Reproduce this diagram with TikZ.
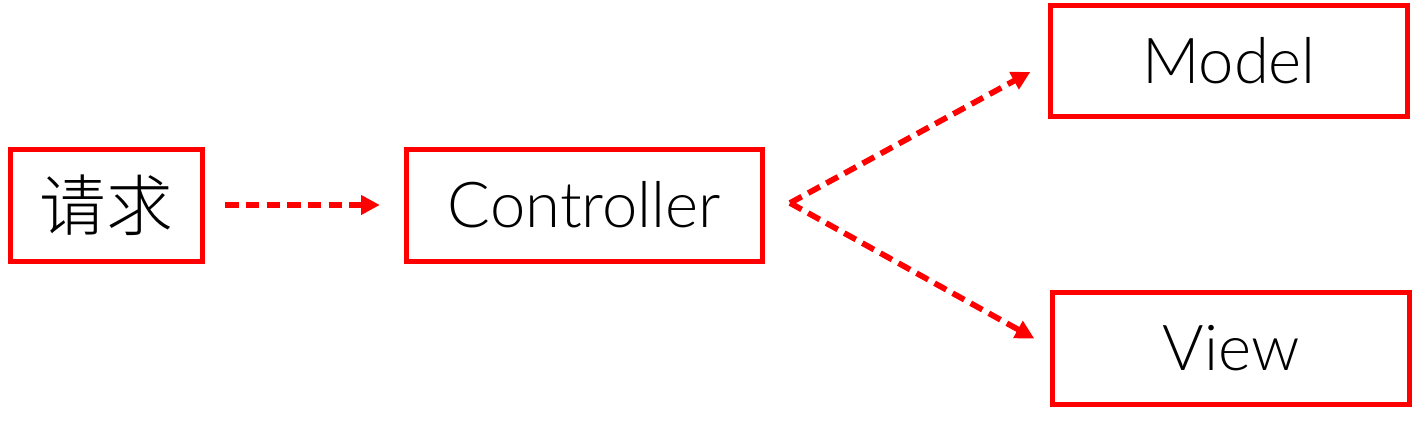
\documentclass[tikz,border=0pt]{standalone}
\usepackage{fontspec}
\setmainfont{Lato}[UprightFont={* Light}]
\newfontfamily\cjk{Noto Sans CJK SC}[UprightFont={* Light}]
\usetikzlibrary{arrows.meta}
\definecolor{boxred}{RGB}{255,0,0}
\begin{document}
\begin{tikzpicture}[x=0.75pt,y=-0.75pt,
  box/.style={draw=boxred, line width=3.75pt, inner sep=0pt, outer sep=0pt,
    minimum height=84pt, font=\fontsize{47.5}{50}\selectfont},
  flow/.style={draw=boxred, line width=4.3pt, dash pattern=on 10pt off 5.5pt,
    -{Triangle[length=14pt,width=14pt]}}]
\useasboundingbox (0,0) rectangle (1416,429);
\node[box, minimum width=144pt] (req) at (106.5,205) {\cjk\fontsize{50}{54}\selectfont 请求};
\node[box, minimum width=267pt] (ctrl) at (584.5,205) {Controller};
\node[box, minimum width=268pt, minimum height=83pt] (model) at (1229,61) {Model};
\node[box, minimum width=268pt] (view) at (1231,348.5) {View};
\coordinate (fork) at (790,203);
\draw[flow, shorten <=17pt, shorten >=20pt] (req.east) -- (ctrl.west);
\draw[flow, shorten >=17pt] (fork) -- (model.west);
\draw[flow, shorten >=15.5pt] (fork) -- (view.west);
\end{tikzpicture}
\end{document}
